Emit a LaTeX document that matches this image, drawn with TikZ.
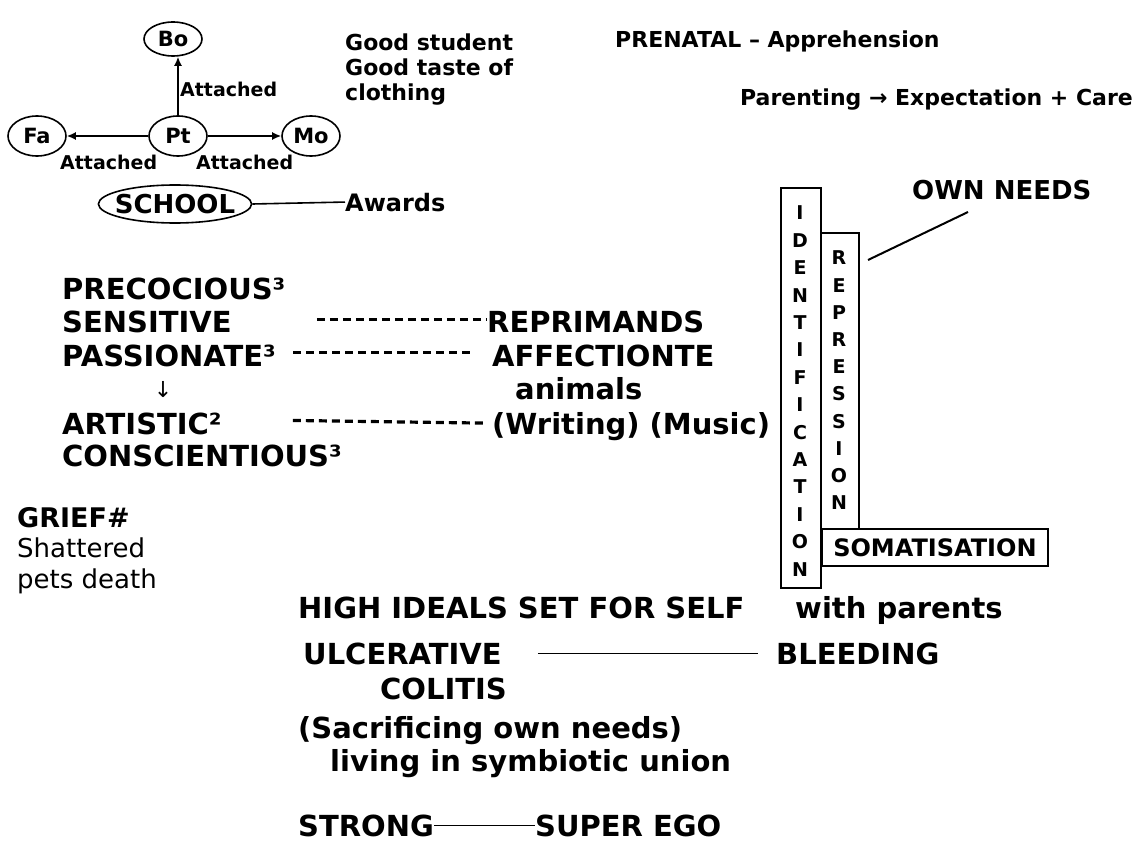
\documentclass[tikz,border=0pt]{standalone}
\usepackage{fontspec}
\setmainfont{DejaVu Sans}
\usetikzlibrary{arrows.meta,shapes.geometric}
\newcommand{\myfs}[1]{\fontsize{#1}{#1}\selectfont}
\begin{document}
\begin{tikzpicture}[x=1pt,y=-1pt,
  big/.style={font=\myfs{29}\bfseries, anchor=base west, inner sep=0pt},
  med/.style={font=\myfs{22}\bfseries, anchor=base west, inner sep=0pt},
  att/.style={font=\myfs{19}\bfseries, anchor=base west, inner sep=0pt},
  circ/.style={draw, ellipse, line width=1.6pt, minimum width=58pt, minimum height=40pt, inner sep=0pt, font=\myfs{21}\bfseries},
  ltr/.style={font=\myfs{19}\bfseries, inner sep=0pt, anchor=base},
  conn/.style={line width=1.6pt},
  thinconn/.style={line width=1.4pt},
  arr/.style={line width=1.6pt, -{Latex[length=9pt,width=8pt]}},
  dsh/.style={line width=3.2pt, dash pattern=on 8pt off 5pt},
  boxl/.style={draw, line width=1.9pt, inner sep=0pt, anchor=north west},
]
\fill[white] (0,0) rectangle (1139,845);
\useasboundingbox (0,0) rectangle (1139,845);

% top cluster
\node[circ, minimum height=34pt] (bo) at (173,39) {Bo};
\node[circ] (fa) at (37,136) {Fa};
\node[circ] (pt) at (178,136) {Pt};
\node[circ] (mo) at (311,136) {Mo};
\draw[arr] (pt.north) -- (bo.south -| pt.north);
\draw[arr] (pt) -- (fa);
\draw[arr] (pt) -- (mo);
\node[att] (atb) at (180,96.5) {Attached};
\node[att] (atf) at (60,169.5) {Attached};
\node[att] (atm) at (196,169.5) {Attached};

\node[draw, ellipse, line width=1.6pt, inner xsep=-6pt, inner ysep=0pt, minimum height=38pt, font=\myfs{26}\bfseries] (school) at (175,204) {SCHOOL};
\node[font=\myfs{24}\bfseries, anchor=base west, inner sep=0pt] (awards) at (345,211) {Awards};
\draw[conn] (school.east) -- (awards.west);

\node[med] (gs1) at (345,51) {Good student};
\node[med] (gs2) at (345,76) {Good taste of};
\node[med] (gs3) at (345,101) {clothing};
\node[med] (pren) at (615,48) {PRENATAL – Apprehension};
\node[med, anchor=base east] (par) at (1133,106) {Parenting → Expectation + Care};

% boxes
\node[boxl, minimum width=40pt, minimum height=400pt] (ident) at (780,187) {};
\foreach \c [count=\i from 0] in {I,D,E,N,T,I,F,I,C,A,T,I,O,N}
  \node[ltr] (id\i) at (800,219.8+27.4*\i) {\c};
\node[boxl, minimum width=38pt, minimum height=296pt] (rep) at (820,232) {};
\foreach \c [count=\i from 0] in {R,E,P,R,E,S,S,I,O,N}
  \node[ltr] (rp\i) at (839,264.8+27.2*\i) {\c};
\node[boxl, minimum width=226pt, minimum height=37pt, font=\myfs{24}\bfseries] (som) at (821,528) {SOMATISATION};
\node[font=\myfs{26}\bfseries, anchor=base west, inner sep=0pt] (own) at (912,199.5) {OWN NEEDS};
\coordinate (o1) at (968,212);
\coordinate (o2) at (868,260);
\draw[conn, line width=2pt] (o1) -- (o2);

% middle list
\node[big] (prec) at (62,299) {PRECOCIOUS³};
\node[big] (sens) at (62,332) {SENSITIVE};
\node[big] (repr) at (487,332) {REPRIMANDS};
\draw[dsh] ([xshift=85pt,yshift=2pt]sens.east) -- ([yshift=2pt]repr.west);
\node[big] (pass) at (62,366) {PASSIONATE³};
\node[big] (affe) at (492,366) {AFFECTIONTE};
\draw[dsh] ([xshift=17pt,yshift=3pt]pass.east) -- ([xshift=-17pt,yshift=3pt]affe.west);
\node[font=\myfs{22}, inner sep=0pt] (darr) at (163,390) {↓};
\node[big] (anim) at (515,399) {animals};
\node[big] (art) at (62,434) {ARTISTIC²};
\node[big] (wri) at (492,434) {(Writing) (Music)};
\draw[dsh] ([xshift=71pt,yshift=3pt]art.east) -- ([xshift=-7pt,yshift=3pt]wri.west);
\node[big] (cons) at (62,466) {CONSCIENTIOUS³};

% grief
\node[font=\myfs{27}\bfseries, anchor=base west, inner sep=0pt] (grief) at (17,527) {GRIEF\#};
\node[font=\myfs{26}, anchor=base west, inner sep=0pt] (shat) at (17,557) {Shattered};
\node[font=\myfs{26}, anchor=base west, inner sep=0pt] (pets) at (17,588) {pets death};

% lower
\node[big] (high) at (298,618) {HIGH IDEALS SET FOR SELF};
\node[big] (withp) at (795,618) {with parents};
\node[big] (ulc) at (303,664) {ULCERATIVE};
\node[big] (bleed) at (776,664) {BLEEDING};
\draw[thinconn] ([xshift=36pt]ulc.east) -- ([xshift=-18pt]bleed.west);
\node[big] (col) at (380,699) {COLITIS};
\node[big] (sac) at (298,738) {(Sacrificing own needs)};
\node[big] (liv) at (330,771) {living in symbiotic union};
\node[big] (str) at (298,836) {STRONG};
\node[big] (sup) at (535,836) {SUPER EGO};
\draw[thinconn] (str.east) -- (sup.west);
\end{tikzpicture}
\end{document}
